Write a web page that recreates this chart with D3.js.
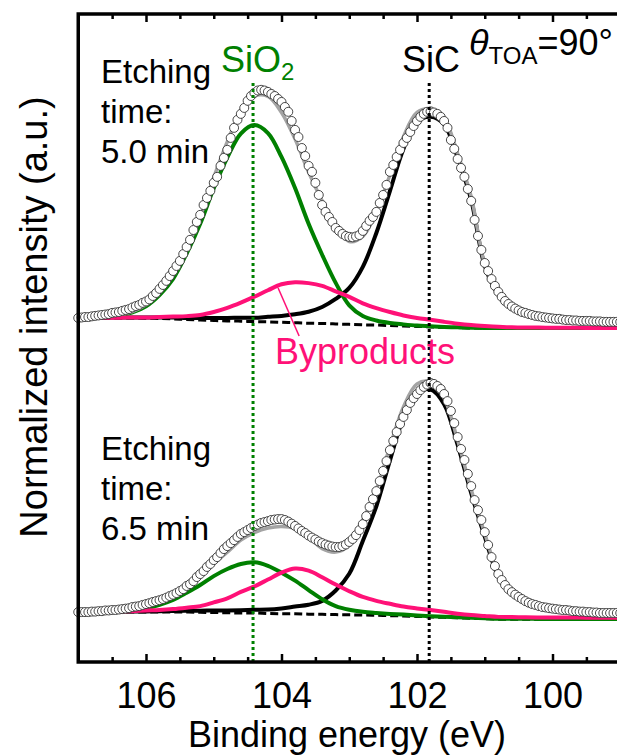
<!DOCTYPE html>
<html>
<head>
<meta charset="utf-8">
<script src="https://cdn.jsdelivr.net/npm/d3@7"></script>
<style>
  body { margin: 0; background: #fff; }
  svg { display: block; }
</style>
</head>
<body>
<svg id="chart" width="617" height="756"></svg>
<script>
// measured spectra, binding energy in eV, step 0.05
const beData = [
  107,106.95,106.9,106.85,106.8,106.75,106.7,106.65,106.6,106.55,
  106.5,106.45,106.4,106.35,106.3,106.25,106.2,106.15,106.1,106.05,
  106,105.95,105.9,105.85,105.8,105.75,105.7,105.65,105.6,105.55,
  105.5,105.45,105.4,105.35,105.3,105.25,105.2,105.15,105.1,105.05,
  105,104.95,104.9,104.85,104.8,104.75,104.7,104.65,104.6,104.55,
  104.5,104.45,104.4,104.35,104.3,104.25,104.2,104.15,104.1,104.05,
  104,103.95,103.9,103.85,103.8,103.75,103.7,103.65,103.6,103.55,
  103.5,103.45,103.4,103.35,103.3,103.25,103.2,103.15,103.1,103.05,
  103,102.95,102.9,102.85,102.8,102.75,102.7,102.65,102.6,102.55,
  102.5,102.45,102.4,102.35,102.3,102.25,102.2,102.15,102.1,102.05,
  102,101.95,101.9,101.85,101.8,101.75,101.7,101.65,101.6,101.55,
  101.5,101.45,101.4,101.35,101.3,101.25,101.2,101.15,101.1,101.05,
  101,100.95,100.9,100.85,100.8,100.75,100.7,100.65,100.6,100.55,
  100.5,100.45,100.4,100.35,100.3,100.25,100.2,100.15,100.1,100.05,
  100,99.95,99.9,99.85,99.8,99.75,99.7,99.65,99.6,99.55,
  99.5,99.45,99.4,99.35,99.3,99.25,99.2,99.15,99.1,99.05,
  99
];
// normalized intensity (%), etching 5.0 min
const data50 = [
  0,0.2,0.4,0.4,0.7,0.9,1.1,1.3,1.5,1.7,
  2.2,2.4,2.6,3.1,3.5,3.9,4.6,5.2,5.7,6.6,
  7.2,8.1,9.6,10.9,12.7,14.4,16.2,18.3,20.5,22.7,
  24.9,27.9,31.0,34.1,38.4,41.9,45.0,49.3,52.4,55.5,
  59.0,61.6,66.4,69.9,73.4,78.6,83.0,86.5,89.1,91.7,
  94.8,96.9,98.3,99.3,99.6,99.3,98.7,97.8,96.9,95.6,
  94.3,92.1,90.0,86.0,82.1,79.0,74.2,70.7,66.4,63.8,
  59.0,53.7,49.3,46.3,44.1,41.9,39.3,38.0,36.7,35.8,
  35.4,35.2,35.6,36.2,38.0,40.2,42.4,44.1,46.3,50.2,
  53.7,58.1,63.8,66.8,70.3,73.4,76.4,78.6,81.2,83.8,
  86.0,87.8,89.1,90.0,90.2,89.7,89.1,87.8,86.0,83.0,
  77.7,73.8,69.4,65.5,61.6,56.3,51.1,42.8,35.8,29.7,
  24.0,20.5,17.0,14.0,11.4,9.2,7.4,6.1,5.0,4.1,
  3.3,2.6,2.2,1.7,1.3,0.9,0.7,0.4,0.2,0,
  -0.2,-0.4,-0.4,-0.7,-0.9,-0.9,-1.1,-1.1,-1.3,-1.3,
  -1.3,-1.3,-1.5,-1.5,-1.5,-1.7,-1.7,-1.7,-1.7,-1.7,
  -1.7
];
// normalized intensity (%), etching 6.5 min
const data65 = [
  0,0,0,0,0.2,0.2,0.4,0.4,0.7,0.7,
  0.9,0.9,1.1,1.3,1.5,1.7,2.2,2.4,2.6,3.1,
  3.5,3.9,4.4,4.8,5.2,5.7,6.3,7.0,7.6,8.3,
  9.2,10.0,11.4,12.2,13.5,15.3,16.6,17.9,19.7,21.0,
  22.7,24.0,25.8,27.5,28.8,30.1,31.4,32.8,34.1,34.9,
  35.8,36.7,37.6,38.2,38.9,39.3,39.7,40.2,40.4,40.6,
  40.6,40.2,39.5,38.6,37.6,36.5,35.4,34.5,33.4,32.5,
  31.7,30.8,30.1,29.5,29.0,28.6,28.4,28.4,28.8,29.5,
  30.6,31.9,33.6,35.8,38.4,41.9,45.9,49.3,52.8,57.2,
  61.6,65.9,70.7,74.7,78.6,82.1,85.2,88.2,91.3,93.4,
  95.2,96.9,98.3,99.3,100.0,99.6,98.7,97.4,95.2,92.1,
  87.8,82.5,76.4,71.2,66.4,60.3,55.0,48.9,44.5,40.2,
  34.9,29.3,24.0,20.1,16.6,14.0,11.8,10.0,8.7,7.6,
  6.6,5.7,4.8,4.1,3.5,3.1,2.6,2.2,2.0,1.7,
  1.5,1.3,1.1,0.9,0.9,0.7,0.4,0.4,0.2,0.2,
  0,0,-0.2,-0.2,-0.4,-0.4,-0.4,-0.4,-0.4,-0.4,
  -0.4
];

// peak fit components, step 0.2 eV
const beFit = [107,106.8,106.6,106.4,106.2,106,105.8,105.6,105.4,105.2,105,104.8,104.6,104.4,104.2,104,
  103.8,103.6,103.4,103.2,103,102.8,102.6,102.4,102.2,102,101.8,101.6,101.4,101.2,101,100.8,100.6,100.4,
  100.2,100,99.8,99.6,99.4,99.2,99];

const bg50 = [0,0,0,0,0,-0.1,-0.2,-0.4,-0.7,-0.9,-1.1,-1.3,-1.4,-1.6,-1.7,-1.9,-2.1,-2.3,-2.4,-2.6,-2.8,
  -3.0,-3.1,-3.3,-3.5,-3.7,-3.9,-4.1,-4.2,-4.4,-4.4,-4.4,-4.4,-4.4,-4.4,-4.4,-4.4,-4.4,-4.4,-4.4,-4.4];
const sio2Fit50 = [0.0,0.2,0.4,1.1,2.4,5.2,10.2,17.5,28.8,42.0,57.7,71.3,81.9,85.8,82.4,72.2,58.8,43.4,30.0,
  17.9,8.3,3.9,2.0,1.1,0.7,0.4,0.3,0.2,0.1,0.1,0,0,0,0,0,0,0,0,0,0,0];
const sicFit50 = [0.0,0.1,0.1,0.2,0.2,0.3,0.4,0.6,0.7,0.9,1.1,1.3,1.5,1.7,2.2,2.8,3.7,5.0,7.2,10.9,15.9,
  25.3,40.2,58.7,77.3,89.3,91.7,88.6,74.2,55.9,27.1,14.6,8.5,5.9,4.6,3.7,3.1,2.8,2.6,2.4,2.3];
const bypFit50 = [0,0.0,0.1,0.1,0.2,0.3,0.6,1.0,1.5,2.2,3.7,5.7,8.1,10.9,13.8,16.6,17.7,17.5,16.4,14.2,12.0,
  9.4,7.4,5.9,4.6,3.7,3.1,2.4,1.7,1.3,0.9,0.6,0.3,0.2,0.2,0.1,0.1,0.1,0,0,0];

const bg65 = [0,0,0,0,0,0,0,0,0,-0.1,-0.2,-0.3,-0.4,-0.4,-0.6,-0.7,-0.7,-0.9,-1.0,-1.1,-1.2,-1.3,-1.4,
  -1.6,-1.7,-1.9,-2.1,-2.3,-2.5,-2.7,-2.9,-3.1,-3.1,-3.1,-3.1,-3.1,-3.1,-3.1,-3.1,-3.1,-3.1];
const sio2Fit65 = [0.0,0.1,0.2,0.4,0.8,1.7,3.2,5.3,8.4,11.9,15.9,19.1,21.4,22.1,20.8,17.9,14.4,10.5,6.6,
  3.7,2.2,1.4,1.0,0.8,0.6,0.4,0.3,0.3,0.2,0.2,0.2,0.2,0.2,0.2,0.1,0.1,0.1,0.1,0.1,0.1,0.1];
const sicFit65 = [0.0,0.1,0.1,0.2,0.2,0.3,0.4,0.5,0.6,0.7,0.9,1.0,1.2,1.4,1.7,2.3,3.1,4.1,5.9,10.5,17.9,
  32.3,47.6,67.7,86.5,97.6,99.3,93.0,75.5,54.6,35.8,18.8,10.9,7.0,4.9,3.9,3.3,2.6,2.2,2.0,2.0];
const bypFit65 = [0.1,0.1,0.2,0.3,0.4,0.7,0.9,1.3,1.9,2.7,4.4,6.3,9.2,11.6,14.8,17.9,19.7,19.0,16.2,13.1,
  10.3,7.9,6.3,5.2,4.1,3.5,3.0,2.4,1.8,1.4,1.2,1.0,0.9,0.8,0.7,0.7,0.7,0.7,0.6,0.6,0.6];

const etchTimes = ["5.0", "6.5"];
const offsets = [128.4, 0];          // vertical stacking of the two spectra
const peakLines = [104.42, 101.82];  // SiO2, SiC
const xMajor = [106, 104, 102, 100];
const xMinor = [106.5, 105.5, 105, 104.5, 103.5, 103, 102.5, 101.5, 101, 100.5, 99.5];

const FONT = '"Liberation Sans", Arial, Helvetica, sans-serif';
const GREEN = "#008000", PINK = "#ff1177", GRAY = "#a4a4a4";

const svg = d3.select("#chart").attr("font-family", FONT);
svg.append("rect").attr("width", 617).attr("height", 756).attr("fill", "#fff");

const x = d3.scaleLinear().domain([107, 99]).range([78.25, 620.25]);
const y = d3.scaleLinear().domain([-21.8, 261.1]).range([662, 14]);

const spectra = [
  {data: data50, bg: bg50, sio2: sio2Fit50, sic: sicFit50, byp: bypFit50, off: offsets[0]},
  {data: data65, bg: bg65, sio2: sio2Fit65, sic: sicFit65, byp: bypFit65, off: offsets[1]}
];

const plot = svg.append("g");

spectra.forEach(function(s) {
  const fitLine = d3.line()
    .x((d, i) => x(beFit[i]))
    .y(d => y(s.off + d))
    .curve(d3.curveCatmullRom.alpha(0.5));

  const withBg = comp => comp.map((v, i) => s.bg[i] + v);
  const envelope = s.bg.map((b, i) => b + s.sio2[i] + s.sic[i] + s.byp[i]);

  plot.append("path").attr("d", fitLine(s.bg))
    .attr("fill", "none").attr("stroke", "#000").attr("stroke-width", 3)
    .attr("stroke-dasharray", "8,4");
  plot.append("path").attr("d", fitLine(withBg(s.sic)))
    .attr("fill", "none").attr("stroke", "#000").attr("stroke-width", 4);
  plot.append("path").attr("d", fitLine(withBg(s.sio2)))
    .attr("fill", "none").attr("stroke", GREEN).attr("stroke-width", 4);
  plot.append("path").attr("d", fitLine(withBg(s.byp)))
    .attr("fill", "none").attr("stroke", PINK).attr("stroke-width", 4);
  plot.append("path").attr("d", fitLine(envelope))
    .attr("fill", "none").attr("stroke", GRAY).attr("stroke-width", 3.5);

  plot.append("g").selectAll("circle")
    .data(s.data).enter()
    .append("circle")
    .attr("cx", (d, i) => x(beData[i]))
    .attr("cy", d => y(s.off + d))
    .attr("r", 4.5)
    .attr("fill", "#fff")
    .attr("stroke", "#333")
    .attr("stroke-width", 0.9);
});

// reference positions of SiO2 and SiC
const lineTop = 83;
plot.selectAll(".peakline")
  .data(peakLines).enter()
  .append("line")
  .attr("x1", d => x(d)).attr("x2", d => x(d))
  .attr("y1", lineTop).attr("y2", y.range()[0])
  .attr("stroke", (d, i) => i === 0 ? GREEN : "#000")
  .attr("stroke-width", 3)
  .attr("stroke-dasharray", "3,3");

// leader from the byproducts label to its peak
svg.append("line")
  .attr("x1", x(104.05)).attr("y1", y(offsets[0] + 13.1))
  .attr("x2", x(103.74)).attr("y2", y(offsets[0] - 7.9))
  .attr("stroke", PINK).attr("stroke-width", 1.5);

// axes
function styleAxis(g) {
  g.select(".domain").remove();
  g.selectAll(".tick line").attr("stroke", "#000").attr("stroke-width", 2.5);
  g.selectAll(".tick text").attr("fill", "#000").attr("font-size", 36).attr("font-family", FONT);
}
svg.append("g").attr("transform", "translate(0,662)")
  .call(d3.axisBottom(x).tickValues(xMajor).tickSize(-8).tickPadding(20).tickFormat(d3.format("d")))
  .call(styleAxis);
svg.append("g").attr("transform", "translate(0,662)")
  .call(d3.axisBottom(x).tickValues(xMinor).tickSize(-5).tickFormat(""))
  .call(styleAxis);
svg.append("g").attr("transform", "translate(0,14)")
  .call(d3.axisTop(x).tickValues(xMajor).tickSize(-8).tickFormat(""))
  .call(styleAxis);
svg.append("g").attr("transform", "translate(0,14)")
  .call(d3.axisTop(x).tickValues(xMinor).tickSize(-5).tickFormat(""))
  .call(styleAxis);

svg.append("rect")
  .attr("x", x.range()[0]).attr("y", y.range()[1])
  .attr("width", x.range()[1] - x.range()[0])
  .attr("height", y.range()[0] - y.range()[1])
  .attr("fill", "none").attr("stroke", "#000").attr("stroke-width", 3.5);

// axis titles
svg.append("text")
  .attr("x", 347).attr("y", 747)
  .attr("text-anchor", "middle").attr("font-size", 36)
  .text("Binding energy (eV)");
svg.append("text")
  .attr("transform", "translate(47,317) rotate(-90)")
  .attr("text-anchor", "middle").attr("font-size", 38)
  .text("Normalized intensity (a.u.)");

// annotations
const etchY = [83, 460];
etchTimes.forEach(function(t, k) {
  const txt = svg.append("text").attr("font-size", 33).attr("fill", "#000");
  ["Etching", "time:", t + " min"].forEach(function(line, j) {
    txt.append("tspan").attr("x", 101).attr("y", etchY[k] + j * 40).text(line);
  });
});

const sio2Label = svg.append("text").attr("x", 221).attr("y", 72)
  .attr("font-size", 36).attr("fill", GREEN);
sio2Label.append("tspan").text("SiO");
sio2Label.append("tspan").attr("font-size", 24).attr("dy", 8).text("2");

svg.append("text").attr("x", 402).attr("y", 72)
  .attr("font-size", 36).attr("fill", "#000").text("SiC");

const theta = svg.append("text").attr("x", 469).attr("y", 55).attr("font-size", 36).attr("fill", "#000");
theta.append("tspan").attr("font-style", "italic").text("θ");
theta.append("tspan").attr("font-size", 24).attr("dy", 9).text("TOA");
theta.append("tspan").attr("dy", -9).text("=90°");

svg.append("text").attr("x", 275).attr("y", 364)
  .attr("font-size", 36).attr("fill", PINK).text("Byproducts");
</script>
</body>
</html>
